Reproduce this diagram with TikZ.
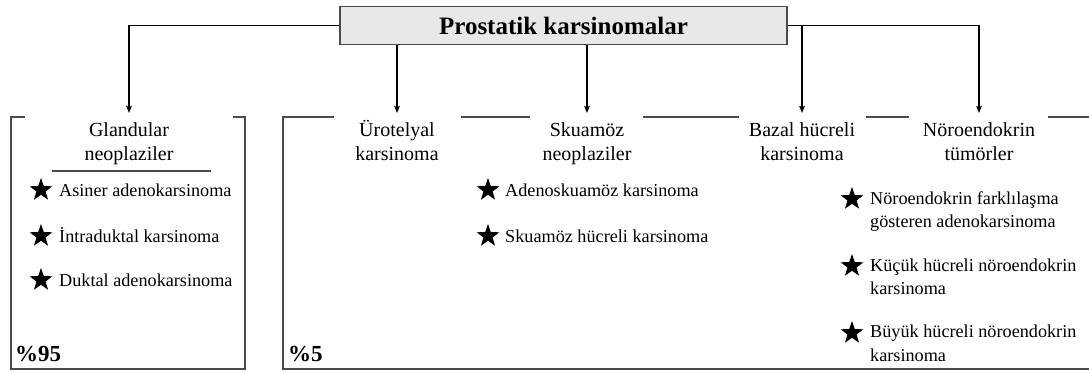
\documentclass[tikz,border=0pt]{standalone}
\usepackage{fontspec}
\setmainfont{Liberation Serif}
\usetikzlibrary{arrows.meta,shapes.geometric}
\definecolor{edge}{HTML}{4A4A4A}
\definecolor{titlefill}{HTML}{E8E8E8}
\tikzset{
  titlebox/.style={draw=edge, line width=1.4pt, fill=titlefill, minimum width=447pt,
    minimum height=38pt, inner sep=0pt, font=\fontsize{25}{30}\selectfont\bfseries},
  hdr/.style={align=center, inner xsep=0pt, inner ysep=7pt, anchor=north,
    font=\fontsize{20}{23.5}\selectfont},
  itemtext/.style={align=left, inner sep=0pt, anchor=base west,
    font=\fontsize{18.2}{23.5}\selectfont},
  bullet/.style={star, star points=5, star point ratio=2.5, fill=black,
    minimum size=24pt, inner sep=0pt},
  pct/.style={inner sep=0pt, anchor=base west, font=\fontsize{23}{27}\selectfont\bfseries},
  frame/.style={draw=edge, line width=1.5pt},
  conn/.style={draw=edge, line width=1.1pt, -{Stealth[length=7pt,width=5.5pt,inset=1pt]}, black},
}
\begin{document}
\begin{tikzpicture}[x=1pt, y=-1pt]
  \useasboundingbox (0,0) rectangle (1089,372);

  % root
  \node[titlebox] (title) at (563.5,25.5) {Prostatik karsinomalar};

  % category headings
  \node[hdr] (gland) at (129,113) {\strut Glandular\\neoplaziler};
  \node[hdr] (uro)   at (397,113) {\strut Ürotelyal\\karsinoma};
  \node[hdr] (sku)   at (587,113) {\strut Skuamöz\\neoplaziler};
  \node[hdr] (bazal) at (802,113) {\strut Bazal hücreli\\karsinoma};
  \node[hdr] (noro)  at (979,113) {\strut Nöroendokrin\\tümörler};

  % connectors from the root
  \draw[conn] (title.west) -| (gland.north);
  \draw[conn] (title.east) -| (noro.north);
  \draw[conn] (title.south -| uro.north) -- (uro.north);
  \draw[conn] (title.south -| sku.north) -- (sku.north);
  \draw[conn] (title.east -| bazal.north) -- (bazal.north);

  % frame around the glandular group
  \draw[frame] (25,117) -- (11,117) -- (11,369) -- (245,369) -- (245,117) -- (233,117);
  \draw[frame] (52,171) -- (211,171);

  % frame around the remaining groups
  \draw[frame] (334,117) -- (283,117) -- (283,369) -- (1095,369);
  \draw[frame] (461,117) -- (530,117);
  \draw[frame] (643,117) -- (739,117);
  \draw[frame] (866,117) -- (909,117);
  \draw[frame] (1048,117) -- (1095,117);

  % glandular subtypes
  \node[bullet] (sa) at (41,190) {};
  \node[itemtext] (ta) at (59,196) {Asiner adenokarsinoma};
  \node[bullet] (sb) at (41,236) {};
  \node[itemtext] (tb) at (59,242) {İntraduktal karsinoma};
  \node[bullet] (sc) at (41,280) {};
  \node[itemtext] (tc) at (59,286) {Duktal adenokarsinoma};

  % squamous subtypes
  \node[bullet] (sd) at (488,190) {};
  \node[itemtext] (td) at (505,196) {Adenoskuamöz karsinoma};
  \node[bullet] (se) at (488,236) {};
  \node[itemtext] (te) at (505,242) {Skuamöz hücreli karsinoma};

  % neuroendocrine subtypes (anchored at the baseline of the second line)
  \node[bullet] (sf) at (852,199) {};
  \node[itemtext] (tf) at (870,227.5) {Nöroendokrin farklılaşma\\gösteren adenokarsinoma};
  \node[bullet] (sg) at (852,266) {};
  \node[itemtext] (tg) at (870,294.5) {Küçük hücreli nöroendokrin\\karsinoma};
  \node[bullet] (sh) at (852,333) {};
  \node[itemtext] (th) at (870,361) {Büyük hücreli nöroendokrin\\karsinoma};

  % shares
  \node[pct] (p1) at (15,361) {\%95};
  \node[pct] (p2) at (288,361) {\%5};
\end{tikzpicture}
\end{document}
